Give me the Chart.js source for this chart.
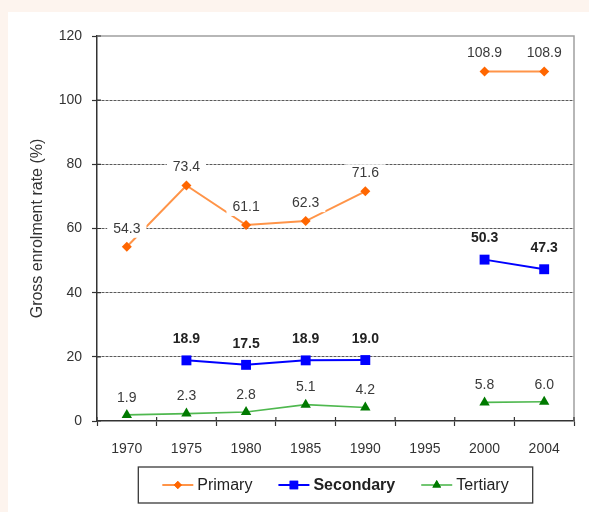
<!DOCTYPE html>
<html>
<head>
<meta charset="utf-8">
<script src="https://cdn.jsdelivr.net/npm/chart.js@4.4.1/dist/chart.umd.min.js"></script>
<style>
  html, body { margin: 0; padding: 0; width: 589px; height: 512px; overflow: hidden; background: #fdf4ee; }
  #panel { position: absolute; left: 8px; top: 12px; width: 581px; height: 500px; background: #ffffff; }
  canvas { display: block; }
</style>
</head>
<body>
<div id="panel"><canvas id="chart" width="581" height="500"></canvas></div>
<script>
// Gross enrolment rates by level of education
const years = ['1970', '1975', '1980', '1985', '1990', '1995', '2000', '2004'];
const primary   = [54.3, 73.4, 61.1, 62.3, 71.6, null, 108.9, 108.9];
const secondary = [null, 18.9, 17.5, 18.9, 19.0, null, 50.3, 47.3];
const tertiary  = [1.9, 2.3, 2.8, 5.1, 4.2, null, 5.8, 6.0];
const yTicks = [0, 20, 40, 60, 80, 100, 120];

const FONT = "'Liberation Sans', Arial, Helvetica, sans-serif";

// value labels: white box behind text, placed above each point
const valueLabels = {
  id: 'valueLabels',
  afterDatasetsDraw(chart) {
    const ctx = chart.ctx;
    chart.data.datasets.forEach((ds, i) => {
      const meta = chart.getDatasetMeta(i);
      const lo = ds.labelStyle;
      ctx.save();
      ctx.font = lo.weight + ' 14px ' + FONT;
      ctx.textAlign = 'center';
      ctx.textBaseline = 'middle';
      meta.data.forEach((pt, j) => {
        const v = ds.data[j];
        if (v === null || v === undefined) return;
        const txt = v.toFixed(1);
        const w = ctx.measureText(txt).width;
        const x = pt.x, y = pt.y - lo.offset;
        ctx.fillStyle = '#ffffff';
        ctx.fillRect(x - w / 2 - 6, y - 9, w + 12, 18);
        ctx.fillStyle = lo.color;
        ctx.fillText(txt, x, y);
      });
      ctx.restore();
    });
  }
};

// plot frame: grey top/right border and inner tick stubs
const frame = {
  id: 'frame',
  beforeDatasetsDraw(chart) {
    const { ctx, chartArea: a, scales } = chart;
    ctx.save();
    ctx.strokeStyle = '#a0a0a0';
    ctx.lineWidth = 1.5;
    ctx.beginPath();
    ctx.moveTo(a.left, a.top);
    ctx.lineTo(a.right, a.top);
    ctx.lineTo(a.right, a.bottom);
    ctx.stroke();
    ctx.strokeStyle = '#333';
    ctx.lineWidth = 1.2;
    ctx.beginPath();
    yTicks.forEach(v => {
      const y = scales.y.getPixelForValue(v);
      ctx.moveTo(a.left, y);
      ctx.lineTo(a.left + 4, y);
    });
    const step = (a.right - a.left) / years.length;
    for (let k = 0; k <= years.length; k++) {
      const x = a.left + k * step;
      ctx.moveTo(x, a.bottom);
      ctx.lineTo(x, a.bottom - 4);
    }
    ctx.stroke();
    ctx.restore();
  }
};

// boxed legend under the axis: line + marker + name
const boxLegend = {
  id: 'boxLegend',
  afterDraw(chart) {
    const { ctx, chartArea: a } = chart;
    const lineLen = 31, textGap = 4, itemGap = 26, pad = 24;
    const items = chart.data.datasets.map(ds => {
      ctx.font = ds.labelStyle.legendWeight + ' 16px ' + FONT;
      return { ds, w: ctx.measureText(ds.label).width };
    });
    let total = pad * 2;
    items.forEach((it, k) => { total += lineLen + textGap + it.w + (k ? itemGap : 0); });
    const cx = (a.left + a.right) / 2;
    const bx = cx - total / 2, by = 455, bh = 36;
    ctx.save();
    ctx.strokeStyle = '#3a3a3a';
    ctx.lineWidth = 1.3;
    ctx.strokeRect(bx, by, total, bh);
    const cy = by + bh / 2;
    let x = bx + pad;
    items.forEach(({ ds, w }) => {
      ctx.strokeStyle = ds.borderColor;
      ctx.lineWidth = ds.borderWidth;
      ctx.beginPath();
      ctx.moveTo(x, cy);
      ctx.lineTo(x + lineLen, cy);
      ctx.stroke();
      ctx.fillStyle = ds.pointBackgroundColor;
      Chart.helpers.drawPoint(ctx, {
        pointStyle: ds.pointStyle, radius: ds.pointRadius - 1, rotation: 0, borderWidth: 0
      }, x + lineLen / 2, cy);
      ctx.fill();
      ctx.font = ds.labelStyle.legendWeight + ' 16px ' + FONT;
      ctx.fillStyle = '#222';
      ctx.textAlign = 'left';
      ctx.textBaseline = 'middle';
      ctx.fillText(ds.label, x + lineLen + textGap, cy + 1);
      x += lineLen + textGap + w + itemGap;
    });
    ctx.restore();
  }
};

new Chart(document.getElementById('chart'), {
  type: 'line',
  data: {
    labels: years,
    datasets: [
      {
        label: 'Primary', data: primary,
        borderColor: '#ff9448', borderWidth: 2,
        pointStyle: 'rectRot', pointRadius: 5,
        pointBackgroundColor: '#ff6600', pointBorderColor: '#ff6600', pointBorderWidth: 0,
        tension: 0, spanGaps: false,
        labelStyle: { offset: 18, weight: 'normal', legendWeight: 'normal', color: '#3a3a3a' }
      },
      {
        label: 'Secondary', data: secondary,
        borderColor: '#0000ff', borderWidth: 2,
        pointStyle: 'rect', pointRadius: 7,
        pointBackgroundColor: '#0000ff', pointBorderColor: '#0000ff', pointBorderWidth: 0,
        tension: 0, spanGaps: false,
        labelStyle: { offset: 21, weight: 'bold', legendWeight: 'bold', color: '#222' }
      },
      {
        label: 'Tertiary', data: tertiary,
        borderColor: '#4fb84f', borderWidth: 1.6,
        pointStyle: 'triangle', pointRadius: 6,
        pointBackgroundColor: '#007a00', pointBorderColor: '#007a00', pointBorderWidth: 0,
        tension: 0, spanGaps: false,
        labelStyle: { offset: 17, weight: 'normal', legendWeight: 'normal', color: '#3a3a3a' }
      }
    ]
  },
  options: {
    responsive: false,
    animation: false,
    layout: { padding: { left: 0, right: 15, top: 24, bottom: 51 } },
    plugins: { legend: { display: false }, tooltip: { enabled: false } },
    scales: {
      x: {
        offset: true,
        grid: { offset: true, drawOnChartArea: false, tickLength: 5, tickColor: '#333', tickWidth: 1.2 },
        border: { color: '#333', width: 1.5 },
        ticks: { font: { family: FONT, size: 14 }, color: '#333', padding: 15, maxRotation: 0, autoSkip: false },
        afterFit(s) { s.height = 40; }
      },
      y: {
        min: 0, max: 120,
        afterBuildTicks(s) { s.ticks = yTicks.map(v => ({ value: v })); },
        grid: {
          color: c => (c.tick && (c.tick.value === 0 || c.tick.value === 120)) ? 'rgba(0,0,0,0)' : '#5a5a5a',
          lineWidth: 1, tickLength: 5, tickColor: '#333', tickWidth: 1.2
        },
        border: { color: '#333', width: 1.5, dash: [3, 1] },
        ticks: { font: { family: FONT, size: 14 }, color: '#333', padding: 10 },
        title: {
          display: true, text: 'Gross enrolment rate (%)',
          font: { family: FONT, size: 16 }, color: '#333',
          padding: { top: 20, bottom: 0 }
        },
        afterFit(s) { s.width = 89; }
      }
    }
  },
  plugins: [frame, valueLabels, boxLegend]
});
</script>
</body>
</html>
